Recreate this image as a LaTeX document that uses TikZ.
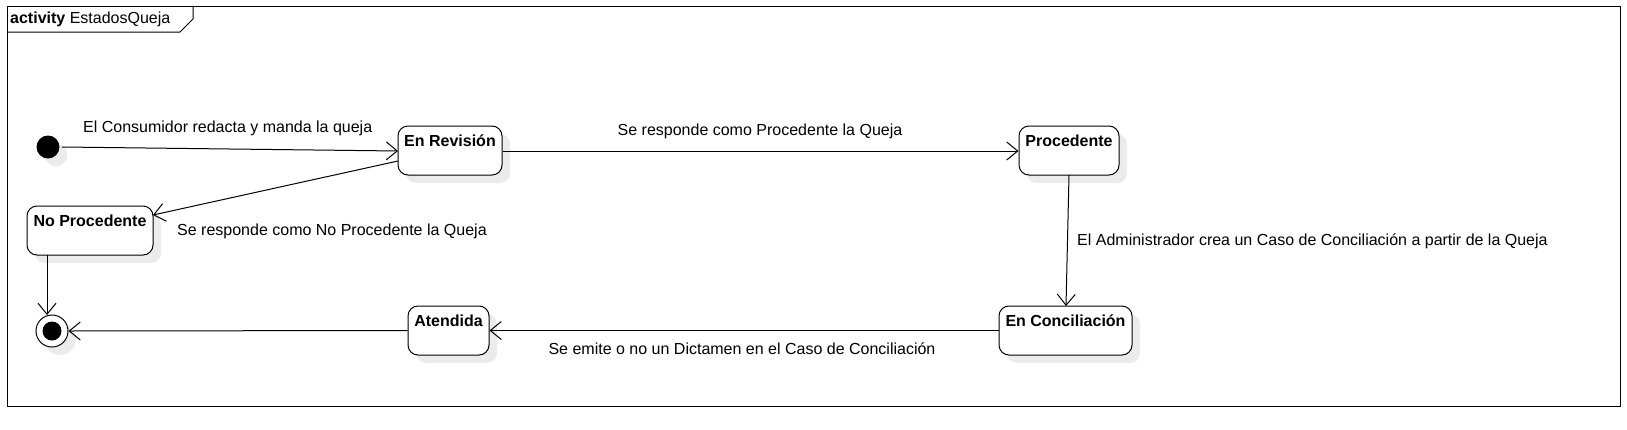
\documentclass[tikz,border=0pt]{standalone}
\usepackage{fontspec}
\setmainfont{Liberation Sans}
\usetikzlibrary{arrows.meta,shadows}
\tikzset{
  lbl/.style={font=\fontsize{16}{19}\selectfont, inner sep=0pt},
  shd/.style={drop shadow={shadow xshift=8pt, shadow yshift=-8pt, fill=black!8, opacity=1}},
  state/.style={draw=black, line width=1pt, rounded corners=10pt, fill=white, shd, inner sep=0pt},
  stname/.style={font=\fontsize{16}{19}\selectfont\bfseries, inner sep=0pt},
  tr/.style={draw=black, line width=1pt, -{Straight Barb[length=11pt,width=18pt,line width=1pt]}},
}
\begin{document}
\begin{tikzpicture}[x=1pt,y=-1pt]
\useasboundingbox (0,0) rectangle (1627,429);
% frame
\draw[line width=1pt] (7,6) rectangle (1620,406);
\draw[line width=1pt] (7,32) -- (180,32) -- (193,19) -- (193,6);
\node[lbl, anchor=west] (title) at (10,19) {\textbf{activity} EstadosQueja};
% states
\node[state, minimum width=104pt, minimum height=49pt] (rev) at (450,150.5) {};
\node[stname, anchor=north] (revt) at ([yshift=-9pt]rev.north) {En Revisión};
\node[state, minimum width=100pt, minimum height=49pt] (proc) at (1069,150.5) {};
\node[stname, anchor=north] (proct) at ([yshift=-9pt]proc.north) {Procedente};
\node[state, minimum width=126pt, minimum height=49pt] (noproc) at (90,230.5) {};
\node[stname, anchor=north] (noproct) at ([yshift=-9pt]noproc.north) {No Procedente};
\node[state, minimum width=81pt, minimum height=49pt] (aten) at (448.5,330.5) {};
\node[stname, anchor=north] (atent) at ([yshift=-9pt]aten.north) {Atendida};
\node[state, minimum width=133pt, minimum height=49pt] (conc) at (1065.5,330.5) {};
\node[stname, anchor=north] (conct) at ([yshift=-9pt]conc.north) {En Conciliación};
% initial and final
\node[circle, fill=black, minimum size=23pt, inner sep=0pt, shd] (init) at (48,147) {};
\node[circle, draw=black, line width=1pt, fill=white, minimum size=32pt, inner sep=0pt, shd] (fin) at (52,331) {};
\node[circle, fill=black, minimum size=19pt, inner sep=0pt] (finin) at (fin.center) {};
% coordinates for connector ends
\coordinate (a1) at (62,147);
\coordinate (a2) at (398,151);
\coordinate (b1) at (398,161);
\coordinate (b2) at (153,215);
\coordinate (c1) at (1069,175);
\coordinate (c2) at (1066,306);
\coordinate (d1) at (47,255);
\coordinate (d2) at (47,315);
% transitions
\draw[tr] (a1) -- (a2);
\draw[tr] (rev.east |- a2) -- (proc.west |- a2);
\draw[tr] (b1) -- (b2);
\draw[tr] (c1) -- (c2);
\draw[tr] (conc.west) -- (aten.east);
\draw[tr] (aten.west) -- (fin.east);
\draw[tr] (d1) -- (d2);
% labels
\node[lbl, anchor=west] (l1) at (83,128) {El Consumidor redacta y manda la queja};
\node[lbl] (l2) at (760,131) {Se responde como Procedente la Queja};
\node[lbl, anchor=west] (l3) at (177,231) {Se responde como No Procedente la Queja};
\node[lbl, anchor=west] (l4) at (1077,241) {El Administrador crea un Caso de Conciliación a partir de la Queja};
\node[lbl] (l5) at (742,349) {Se emite o no un Dictamen en el Caso de Conciliación};
\end{tikzpicture}
\end{document}
